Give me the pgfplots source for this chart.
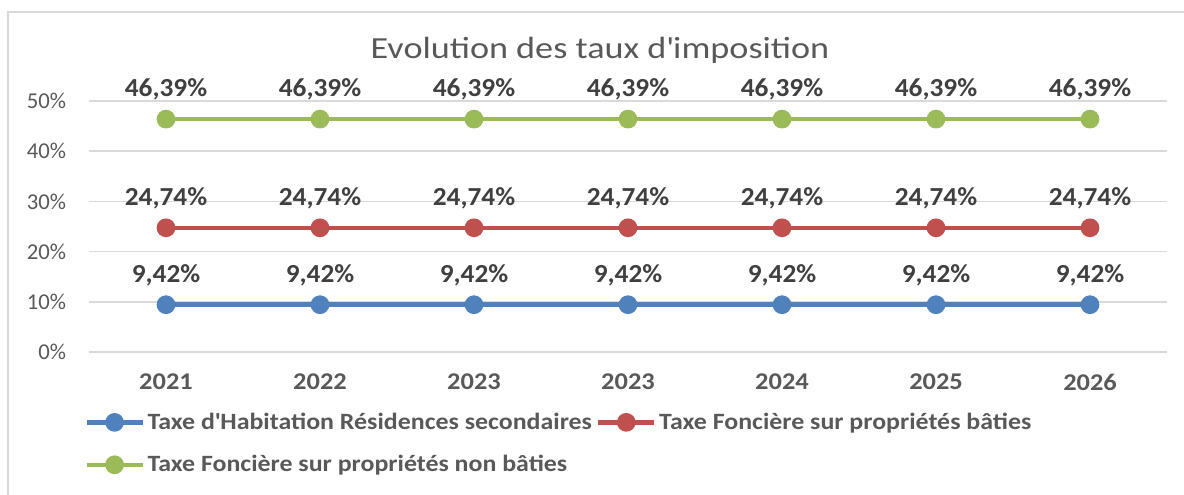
\documentclass[border=0pt]{standalone}
\usepackage{pgfplots}
\pgfplotsset{compat=1.18}
\usepackage{fontspec}
\setmainfont{Carlito}
\newfontfamily\titlefont[FakeStretch=1.18]{Carlito}
\newfontfamily\legfont[FakeStretch=1.11]{Carlito}
\newfontfamily\xfont[FakeStretch=1.1]{Carlito}
\newfontfamily\labfont[FakeStretch=1.05]{Carlito}
\definecolor{cblue}{HTML}{4F81BD}
\definecolor{cred}{HTML}{C0504D}
\definecolor{cgreen}{HTML}{9BBB59}
\definecolor{cgrid}{HTML}{D9D9D9}
\definecolor{ctext}{HTML}{595959}
\definecolor{clabel}{HTML}{404040}
\begin{document}
\begin{tikzpicture}
\begin{axis}[name=ax, at={(0,0)}, anchor=south west,
  scale only axis, width=808.5pt, height=188.25pt,
  xmin=-0.5, xmax=6.5, ymin=0, ymax=50,
  xtick={0,...,6}, xticklabels={2021,2022,2023,2023,2024,2025,2026},
  ytick={0,10,...,50}, yticklabels={0\%,10\%,20\%,30\%,40\%,50\%},
  ymajorgrids, grid style={draw=cgrid, line width=1.1pt},
  axis line style={draw=none}, major tick length=0pt, tick style={draw=none},
  xticklabel style={font=\xfont\fontsize{18}{22}\selectfont\bfseries, text=ctext, anchor=center, yshift=-22.5pt},
  yticklabel style={font=\fontsize{17}{20}\selectfont, text=ctext, anchor=east, inner sep=0pt, xshift=-17pt},
  clip=false,
  nodes near coords, point meta=explicit symbolic,
  nodes near coords style={font=\labfont\fontsize{19.5}{23}\selectfont\bfseries, text=clabel, anchor=center, yshift=22pt},
  every axis plot/.append style={line width=3.4pt, mark=*, mark size=5.3pt},
  legend columns=2,
  legend style={at={(-0.0046,-0.232)}, anchor=north west, draw=none, fill=none,
    font=\legfont\fontsize{17.5}{20}\selectfont\bfseries, text=ctext,
    row sep=14pt, inner sep=0pt},
  legend cell align=left,
  legend image code/.code={\draw[mark repeat=2,mark phase=2,#1] plot coordinates {(0pt,0pt)(21pt,0pt)(42pt,0pt)};},
  /tikz/every even column/.append style={column sep=1pt},
]
\addplot[cblue, mark options={fill=cblue, draw=cblue}] coordinates {
 (0,9.42) [9,42\%] (1,9.42) [9,42\%] (2,9.42) [9,42\%] (3,9.42) [9,42\%] (4,9.42) [9,42\%] (5,9.42) [9,42\%] (6,9.42) [9,42\%]};
\addlegendentry{Taxe d\textquotesingle Habitation Résidences secondaires}
\addplot[cred, mark options={fill=cred, draw=cred}] coordinates {
 (0,24.74) [24,74\%] (1,24.74) [24,74\%] (2,24.74) [24,74\%] (3,24.74) [24,74\%] (4,24.74) [24,74\%] (5,24.74) [24,74\%] (6,24.74) [24,74\%]};
\addlegendentry{Taxe Foncière sur propriétés bâties}
\addplot[cgreen, mark options={fill=cgreen, draw=cgreen}] coordinates {
 (0,46.39) [46,39\%] (1,46.39) [46,39\%] (2,46.39) [46,39\%] (3,46.39) [46,39\%] (4,46.39) [46,39\%] (5,46.39) [46,39\%] (6,46.39) [46,39\%]};
\addlegendentry{Taxe Foncière sur propriétés non bâties}
\end{axis}
\node[font=\titlefont\fontsize{23}{27}\selectfont, text=ctext] at (383.25pt,226.5pt) {Evolution des taux d\textquotesingle imposition};
\draw[cgrid, line width=1.5pt] (-60.75pt,-110pt) -- (-60.75pt,255pt) -- (830pt,255pt);
\pgfresetboundingbox
\path (-66.75pt,-107.25pt) rectangle (821.25pt,264pt);
\end{tikzpicture}
\end{document}
